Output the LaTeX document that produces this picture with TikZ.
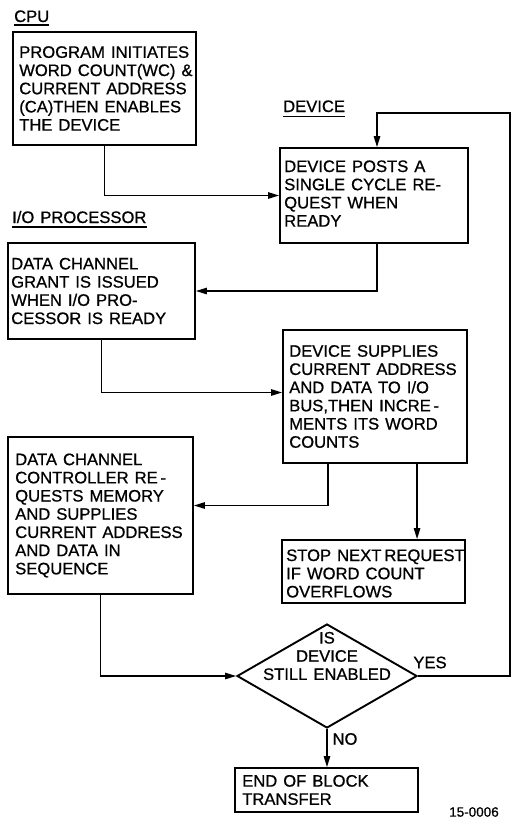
\documentclass[tikz,border=0pt]{standalone}
\usepackage{fontspec}
\setmainfont{Liberation Sans}[WordSpace=1.3, FakeBold=0.8]
\usetikzlibrary{arrows.meta,shapes.geometric,calc}

\begin{document}
\begin{tikzpicture}[x=1pt,y=-1pt,
  box/.style={draw, line width=1.9pt, inner sep=0pt},
  txt/.style={align=left, inner sep=0pt, anchor=west, font=\fontsize{16.6}{18.2}\selectfont},
  head/.style={inner sep=0pt, anchor=base west, font=\fontsize{16.6}{18.2}\selectfont},
  lbl/.style={inner sep=0pt, font=\fontsize{16.6}{18.2}\selectfont},
  link/.style={line width=1.3pt},
  arr/.style={link, -{Triangle[length=11pt,width=6.5pt]}},
  uline/.style={line width=1.3pt}
]
\useasboundingbox (0,0) rectangle (514,831);

% column headings
\node[head] (hcpu) at (14,22) {CPU};
\draw[uline] ([yshift=-3pt]hcpu.base west) -- ([yshift=-3pt]hcpu.base east);
\node[head] (hdev) at (283,112) {DEVICE};
\draw[uline] ([yshift=-4.5pt]hdev.base west) -- ([yshift=-4.5pt]hdev.base east);
\node[head] (hio) at (12,223) {I/O PROCESSOR};
\draw[uline] ([yshift=-4pt]hio.base west) -- ([yshift=-4pt]hio.base east);

% process boxes
\node[box, minimum width=183pt, minimum height=113pt] (cpu) at (104.5,88.5) {};
\node[txt] (cpu-t) at ([xshift=7pt]cpu.west)
  {PROGRAM INITIATES\\ WORD COUNT(WC) \&\\ CURRENT ADDRESS\\ (CA)THEN ENABLES\\ THE DEVICE};

\node[box, minimum width=188pt, minimum height=95pt] (dev) at (374,195.5) {};
\node[txt] (dev-t) at ([xshift=5pt,yshift=2pt]dev.west)
  {DEVICE POSTS A\\ SINGLE CYCLE RE-\\ QUEST WHEN\\ READY};

\node[box, minimum width=187pt, minimum height=96pt] (grant) at (101.5,291) {};
\node[txt] (grant-t) at ([xshift=4pt]grant.west)
  {DATA CHANNEL\\ GRANT IS ISSUED\\ WHEN I/O PRO-\\ CESSOR IS READY};

\node[box, minimum width=184pt, minimum height=133pt] (supply) at (375,396.5) {};
\node[txt] (supply-t) at ([xshift=7pt]supply.west)
  {DEVICE SUPPLIES\\ CURRENT ADDRESS\\ AND DATA TO I/O\\ BUS,THEN INCRE\,-\\ MENTS ITS WORD\\ COUNTS};

\node[box, minimum width=185pt, minimum height=157pt] (ctrl) at (100.5,515.5) {};
\node[txt] (ctrl-t) at ([xshift=8pt]ctrl.west)
  {DATA CHANNEL\\ CONTROLLER RE\,-\\ QUESTS MEMORY\\ AND SUPPLIES\\ CURRENT ADDRESS\\ AND DATA IN\\ SEQUENCE};

\node[box, minimum width=183pt, minimum height=63pt] (stop) at (373.5,571.5) {};
\node[txt] (stop-t) at ([xshift=5pt,yshift=-2pt]stop.west)
  {STOP NEXT\hspace{3pt}REQUEST\\ IF WORD COUNT\\ OVERFLOWS};

\node[box, diamond, minimum width=180pt, minimum height=104pt] (dia) at (327,676) {};
\node[lbl, align=center] (dia-t) at (327,656) {IS\\ DEVICE\\ STILL ENABLED};

\node[box, minimum width=183pt, minimum height=44pt] (end) at (326.5,790) {};
\node[txt] (end-t) at ([xshift=8pt]end.west) {END OF BLOCK\\ TRANSFER};

% branch labels and drawing number
\node[lbl] (yes) at (430,662.5) {YES};
\node[lbl] (no) at (345,739) {NO};
\node[inner sep=0pt, font=\fontsize{13.5}{15}\selectfont] (fig) at (474,812) {15-0006};

% flow lines
\draw[arr] (cpu.south) |- (dev.west);
\draw[arr] ([xshift=3pt]dev.south) |- (grant.east);
\draw[arr] (grant.south) |- ([yshift=4pt]supply.west);
\draw[arr] ([xshift=46pt]supply.south west) |- ([yshift=10pt]ctrl.east);
\draw[arr] ([xshift=135pt]supply.south west) -- ([xshift=136pt]stop.north west);
\draw[arr] (ctrl.south) |- (dia.west);
\coordinate (loopR) at (510,113);
\coordinate (loopL) at (377,113);
\draw[arr] (dia.east) -| (loopR) -- (loopL) -- (loopL |- dev.north);
\draw[arr] (dia.south) -- (dia.south |- end.north);
\end{tikzpicture}
\end{document}
